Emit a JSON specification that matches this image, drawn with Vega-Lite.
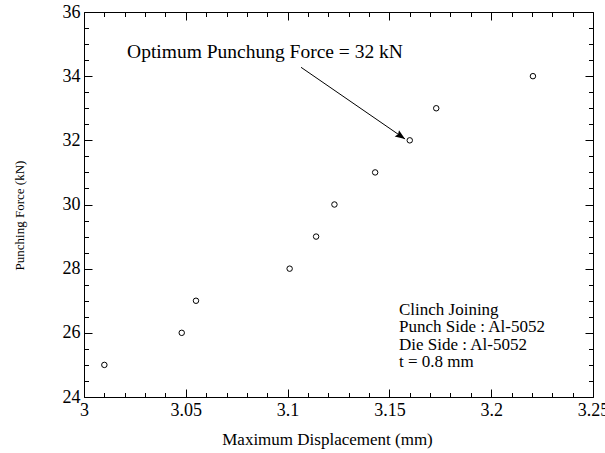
{
  "$schema": "https://vega.github.io/schema/vega-lite/v6.json",
  "width": 509,
  "height": 385,
  "autosize": {"type": "none"},
  "padding": {"left": 84, "top": 12, "right": 12, "bottom": 56},
  "background": "white",
  "config": {"view": {"stroke": null}, "font": "'Liberation Serif', 'Times New Roman', Times, 'DejaVu Serif', serif"},
  "datasets": {
    "points": [
      {"disp": 3.010, "force": 25},
      {"disp": 3.048, "force": 26},
      {"disp": 3.055, "force": 27},
      {"disp": 3.101, "force": 28},
      {"disp": 3.114, "force": 29},
      {"disp": 3.123, "force": 30},
      {"disp": 3.143, "force": 31},
      {"disp": 3.160, "force": 32},
      {"disp": 3.173, "force": 33},
      {"disp": 3.2205, "force": 34}
    ],
    "notes": [
      {"disp": 3.1547, "force": 26.556, "text": "Clinch Joining\nPunch Side : Al-5052\nDie Side : Al-5052\nt = 0.8 mm"}
    ],
    "callout": [
      {"disp": 3.0889, "force": 34.576, "text": "Optimum Punchung Force = 32 kN"}
    ],
    "arrow": [
      {"x1": 3.1066, "y1": 34.276, "x2": 3.1577, "y2": 32.042}
    ]
  },
  "resolve": {"axis": {"x": "independent", "y": "independent"}},
  "layer": [
    {
      "data": {"name": "points"},
      "mark": {"type": "point", "shape": "circle", "filled": false, "stroke": "black", "strokeWidth": 1, "size": 30, "opacity": 1},
      "encoding": {
        "x": {
          "field": "disp", "type": "quantitative",
          "scale": {"domain": [3, 3.25], "nice": false, "zero": false},
          "axis": {
            "orient": "bottom",
            "values": [3, 3.01, 3.02, 3.03, 3.04, 3.05, 3.06, 3.07, 3.08, 3.09, 3.1, 3.11, 3.12, 3.13, 3.14, 3.15, 3.16, 3.17, 3.18, 3.19, 3.2, 3.21, 3.22, 3.23, 3.24, 3.25],
            "labelExpr": "abs(datum.value*20-round(datum.value*20))<0.001 ? '' + round(datum.value*100)/100 : ''",
            "tickSize": {"condition": {"test": "abs(datum.value*20-round(datum.value*20))<0.001", "value": -8}, "value": -4.5},
            "tickColor": "black", "tickWidth": 1,
            "domainColor": "black", "domainWidth": 1,
            "grid": false,
            "labelFontSize": 18, "labelColor": "black",
            "labelPadding": 12, "labelFlush": false, "labelOverlap": false, "labelBound": false,
            "title": "Maximum Displacement (mm)",
            "titleFontSize": 17, "titleFontWeight": "normal", "titleColor": "black",
            "titleX": 243, "titleY": 47, "titleBaseline": "alphabetic", "titleAnchor": "middle"
          }
        },
        "y": {
          "field": "force", "type": "quantitative",
          "scale": {"domain": [24, 36], "nice": false, "zero": false},
          "axis": {
            "orient": "left",
            "values": [24, 24.5, 25, 25.5, 26, 26.5, 27, 27.5, 28, 28.5, 29, 29.5, 30, 30.5, 31, 31.5, 32, 32.5, 33, 33.5, 34, 34.5, 35, 35.5, 36],
            "labelExpr": "datum.value % 2 === 0 ? '' + datum.value : ''",
            "tickSize": {"condition": {"test": "datum.value % 2 === 0", "value": -8}, "value": -4.5},
            "tickColor": "black", "tickWidth": 1,
            "domainColor": "black", "domainWidth": 1,
            "grid": false,
            "labelFontSize": 18, "labelColor": "black",
            "labelPadding": 12, "labelFlush": false, "labelOverlap": false, "labelBound": false,
            "title": "Punching Force (kN)",
            "titleFontSize": 13, "titleFontWeight": "normal", "titleColor": "black",
            "titleX": -58, "titleY": 203, "titleAngle": -90, "titleBaseline": "bottom", "titleAlign": "center"
          }
        }
      }
    },
    {
      "data": {"name": "notes"},
      "mark": {"type": "text", "align": "left", "baseline": "alphabetic", "fontSize": 17, "lineBreak": "\n", "lineHeight": 17.3, "color": "black"},
      "encoding": {
        "x": {
          "field": "disp", "type": "quantitative",
          "scale": {"domain": [3, 3.25], "nice": false, "zero": false},
          "axis": {
            "orient": "top",
            "values": [3, 3.01, 3.02, 3.03, 3.04, 3.05, 3.06, 3.07, 3.08, 3.09, 3.1, 3.11, 3.12, 3.13, 3.14, 3.15, 3.16, 3.17, 3.18, 3.19, 3.2, 3.21, 3.22, 3.23, 3.24, 3.25],
            "labels": false, "title": null, "grid": false,
            "tickSize": {"condition": {"test": "abs(datum.value*20-round(datum.value*20))<0.001", "value": -8}, "value": -4.5},
            "tickColor": "black", "tickWidth": 1,
            "domainColor": "black", "domainWidth": 1
          }
        },
        "y": {
          "field": "force", "type": "quantitative",
          "scale": {"domain": [24, 36], "nice": false, "zero": false},
          "axis": {
            "orient": "right",
            "values": [24, 24.5, 25, 25.5, 26, 26.5, 27, 27.5, 28, 28.5, 29, 29.5, 30, 30.5, 31, 31.5, 32, 32.5, 33, 33.5, 34, 34.5, 35, 35.5, 36],
            "labels": false, "title": null, "grid": false,
            "tickSize": {"condition": {"test": "datum.value % 2 === 0", "value": -8}, "value": -4.5},
            "tickColor": "black", "tickWidth": 1,
            "domainColor": "black", "domainWidth": 1
          }
        },
        "text": {"field": "text", "type": "nominal"}
      }
    },
    {
      "data": {"name": "callout"},
      "mark": {"type": "text", "align": "center", "baseline": "alphabetic", "fontSize": 19.5, "color": "black"},
      "encoding": {
        "x": {"field": "disp", "type": "quantitative", "scale": {"domain": [3, 3.25], "nice": false, "zero": false}, "axis": null},
        "y": {"field": "force", "type": "quantitative", "scale": {"domain": [24, 36], "nice": false, "zero": false}, "axis": null},
        "text": {"field": "text", "type": "nominal"}
      }
    },
    {
      "data": {"name": "arrow"},
      "mark": {"type": "rule", "color": "black", "strokeWidth": 1},
      "encoding": {
        "x": {"field": "x1", "type": "quantitative", "scale": {"domain": [3, 3.25], "nice": false, "zero": false}, "axis": null},
        "y": {"field": "y1", "type": "quantitative", "scale": {"domain": [24, 36], "nice": false, "zero": false}, "axis": null},
        "x2": {"field": "x2"},
        "y2": {"field": "y2"}
      }
    },
    {
      "data": {"name": "arrow"},
      "mark": {"type": "point", "shape": "M0,0L-1,-0.38L-0.85,0L-1,0.38Z", "filled": true, "color": "black", "size": 400, "angle": 34.6, "opacity": 1, "strokeWidth": 0},
      "encoding": {
        "x": {"field": "x2", "type": "quantitative", "scale": {"domain": [3, 3.25], "nice": false, "zero": false}, "axis": null},
        "y": {"field": "y2", "type": "quantitative", "scale": {"domain": [24, 36], "nice": false, "zero": false}, "axis": null}
      }
    }
  ]
}
